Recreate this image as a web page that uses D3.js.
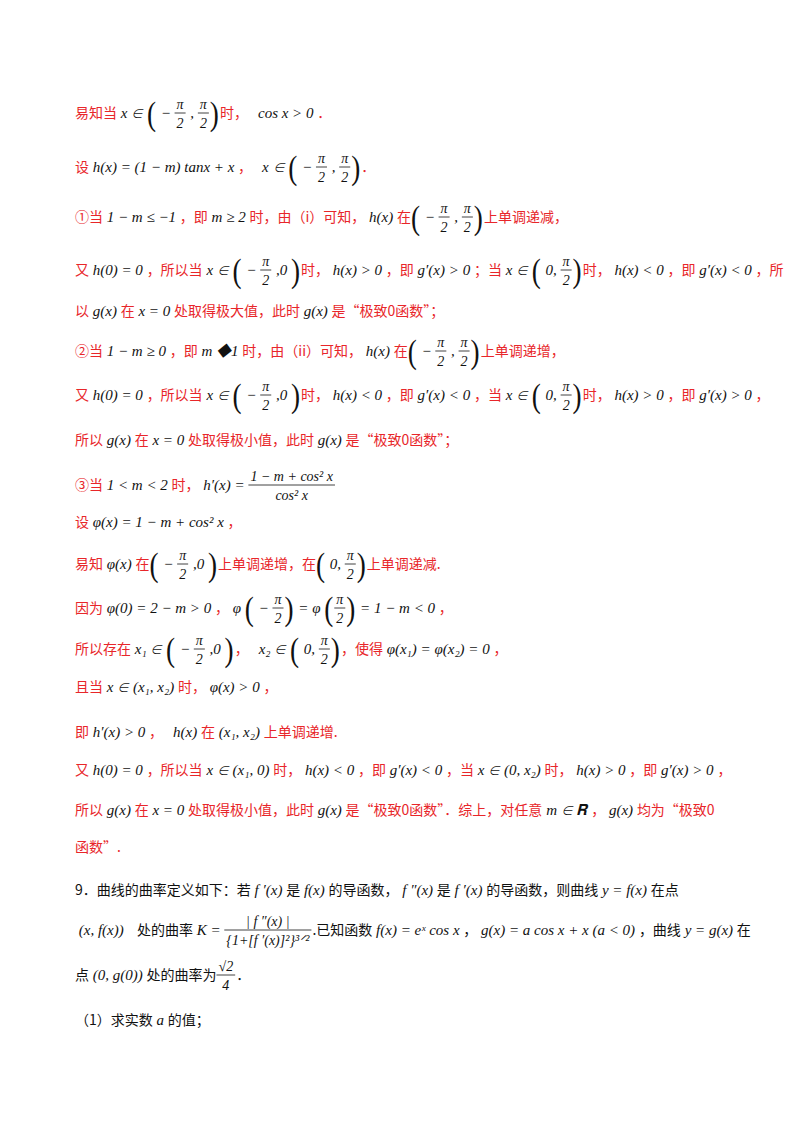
<html lang="zh">
<head>
<meta charset="UTF-8">
<script src="https://cdn.jsdelivr.net/npm/d3@7"></script>
<style>body{margin:0;background:#fff}</style>
</head>
<body>
<svg width="800" height="1132"></svg>
<script>
  // [..] = formule, {num¦den} = fraction, ⦅ ⦆ = grandes parenthèses
  const lignesRouges = [
    "易知当[x ∈]⦅[−]{π¦2}[,]{π¦2}⦆时，  [cos x > 0]．",
    "设[h(x) = (1 − m) tanx + x]，  [x ∈]⦅[−]{π¦2}[,]{π¦2}⦆．",
    "①当[1 − m ≤ −1]，即[m ≥ 2]时，由（i）可知，[h(x)]在⦅[−]{π¦2}[,]{π¦2}⦆上单调递减，",
    "又[h(0) = 0]，所以当[x ∈]⦅[−]{π¦2}[,0]⦆时，[h(x) > 0]，即[g′(x) > 0]；当[x ∈]⦅[0,]{π¦2}⦆时，[h(x) < 0]，即[g′(x) < 0]，所",
    "以[g(x)]在[x = 0]处取得极大值，此时[g(x)]是“极致0函数”；",
    "②当[1 − m ≥ 0]，即[m ◆1]时，由（ii）可知，[h(x)]在⦅[−]{π¦2}[,]{π¦2}⦆上单调递增，",
    "又[h(0) = 0]，所以当[x ∈]⦅[−]{π¦2}[,0]⦆时，[h(x) < 0]，即[g′(x) < 0]，当[x ∈]⦅[0,]{π¦2}⦆时，[h(x) > 0]，即[g′(x) > 0]，",
    "所以[g(x)]在[x = 0]处取得极小值，此时[g(x)]是“极致0函数”；",
    "③当[1 < m < 2]时，[h′(x) =]{1 − m + cos² x¦cos² x}",
    "设[φ(x) = 1 − m + cos² x]，",
    "易知[φ(x)]在⦅[−]{π¦2}[,0]⦆上单调递增，在⦅[0,]{π¦2}⦆上单调递减.",
    "因为[φ(0) = 2 − m > 0]，[φ]⦅[−]{π¦2}⦆[= φ]⦅{π¦2}⦆[= 1 − m < 0]，",
    "所以存在[x₁ ∈]⦅[−]{π¦2}[,0]⦆，  [x₂ ∈]⦅[0,]{π¦2}⦆，使得[φ(x₁) = φ(x₂) = 0]，",
    "且当[x ∈ (x₁, x₂)]时，[φ(x) > 0]，",
    "即[h′(x) > 0]，  [h(x)]在[(x₁, x₂)]上单调递增.",
    "又[h(0) = 0]，所以当[x ∈ (x₁, 0)]时，[h(x) < 0]，即[g′(x) < 0]，当[x ∈ (0, x₂)]时，[h(x) > 0]，即[g′(x) > 0]，",
    "所以[g(x)]在[x = 0]处取得极小值，此时[g(x)]是“极致0函数”．综上，对任意[m ∈ 𝐑]，[g(x)]均为“极致0",
    "函数”."
  ];
  const lignesNoires = [
    "9．曲线的曲率定义如下：若[f ′(x)]是[f(x)]的导函数，[f ″(x)]是[f ′(x)]的导函数，则曲线[y = f(x)]在点",
    "[(x, f(x))]   处的曲率[K =]{| f ″(x) |¦❴1+⟦f ′(x)⟧²❵³ᐟ²}.已知函数[f(x) = eˣ cos x]，[g(x) = a cos x + x (a < 0)]，曲线[y = g(x)]在",
    "点[(0, g(0))]处的曲率为{√2¦4}．",
    "（1）求实数[a]的值；"
  ];
  const baselines = [118,172,222,275,316,356,400,445,490,527,569,613,654,692,737,775,815,852,895,935,980,1025];

  const rouge = "#e8262a";
  const cjk = "'Noto Sans CJK SC'";
  const serif = "'Liberation Serif'";
  const svg = d3.select("svg");

  const lignes = lignesRouges.map(s => ({s, c: rouge}))
    .concat(lignesNoires.map(s => ({s, c: "#111"})));

  const affiche = s => s.replace(/❴/g, "{").replace(/❵/g, "}").replace(/⟦/g, "[").replace(/⟧/g, "]");
  function mesure(sel) { return sel.node().getComputedTextLength(); }

  lignes.forEach((l, i) => {
    const y = baselines[i];
    let x = 75;
    const g = svg.append("g");
    const parts = l.s.split(/(\[[^\]]*\]|\{[^¦}]*¦[^}]*\}|⦅|⦆)/).filter(p => p !== "");
    parts.forEach(p => {
      if (p[0] === "[") {
        const t = g.append("text").attr("x", x).attr("y", y)
          .attr("font-family", serif).attr("font-style", "italic").attr("font-size", 15)
          .attr("fill", "#111").attr("xml:space", "preserve").text(" " + p.slice(1, -1) + " ");
        x += mesure(t);
      } else if (p[0] === "{" && p.includes("¦")) {
        const [n, d] = p.slice(1, -1).split("¦").map(affiche);
        const fs = 14;
        const tn = g.append("text").attr("y", y - 9).attr("font-family", serif).attr("font-style", "italic")
          .attr("font-size", fs).attr("fill", "#111").attr("text-anchor", "middle").text(n);
        const td = g.append("text").attr("y", y + 10).attr("font-family", serif).attr("font-style", "italic")
          .attr("font-size", fs).attr("fill", "#111").attr("text-anchor", "middle").text(d);
        const w = Math.max(mesure(tn), mesure(td)) + 4;
        tn.attr("x", x + w / 2); td.attr("x", x + w / 2);
        g.append("line").attr("x1", x).attr("x2", x + w).attr("y1", y - 5).attr("y2", y - 5)
          .attr("stroke", "#111").attr("stroke-width", 0.8);
        x += w + 1;
      } else if (p === "⦅" || p === "⦆") {
        const t = g.append("text").attr("x", x).attr("y", y + 7).attr("font-family", serif)
          .attr("font-size", 34).attr("font-weight", 100).attr("fill", "#111").text(p === "⦅" ? "(" : ")");
        t.attr("transform", `translate(${x},${y}) scale(0.8,1) translate(${-x},${-y})`);
        x += mesure(t) * 0.8 + 1;
      } else {
        const t = g.append("text").attr("x", x).attr("y", y).attr("font-family", cjk)
          .attr("font-size", 14).attr("fill", l.c).attr("xml:space", "preserve").text(p);
        x += mesure(t);
      }
    });
  });
</script>
</body>
</html>
